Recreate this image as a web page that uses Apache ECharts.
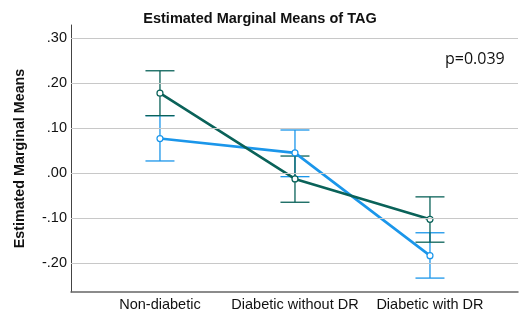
<!DOCTYPE html>
<html>
<head>
<meta charset="utf-8">
<script src="https://cdn.jsdelivr.net/npm/echarts@6/dist/echarts.min.js"></script>
<style>
  html, body { margin: 0; padding: 0; background: #fff; }
  #chart { width: 522px; height: 324px; }
</style>
</head>
<body>
<div id="chart"></div>
<script>
// Groups along the x axis
const categories = ['Non-diabetic', 'Diabetic without DR', 'Diabetic with DR'];

// Dark green series: means with lower/upper error limits
const greenMean = [0.178, -0.013, -0.103];
const greenLow  = [0.128, -0.065, -0.154];
const greenHigh = [0.228, 0.038, -0.053];

// Blue series: means with lower/upper error limits
const blueMean = [0.077, 0.045, -0.184];
const blueLow  = [0.027, -0.008, -0.234];
const blueHigh = [0.128, 0.096, -0.133];

// Y tick values
const yTicks = [-0.2, -0.1, 0.0, 0.1, 0.2, 0.3];

const GREEN = '#0a6259';
const BLUE = '#1b96ea';

function fmt(v) {
  const a = Math.abs(v).toFixed(2).replace(/^0/, '');
  return (v < -1e-9 ? '-' : '') + a;
}

function pts(arr) { return arr.map((v, i) => [i, v]); }

function errorSeries(low, high, color) {
  return {
    type: 'custom',
    silent: true,
    z: 3,
    data: low.map((v, i) => [i, v, high[i]]),
    renderItem: function (params, api) {
      const lo = api.coord([api.value(0), api.value(1)]);
      const hi = api.coord([api.value(0), api.value(2)]);
      const hw = 14.5;
      const style = { stroke: color, lineWidth: 1.3 };
      return {
        type: 'group',
        children: [
          { type: 'line', shape: { x1: lo[0], y1: lo[1], x2: hi[0], y2: hi[1] }, style: style },
          { type: 'line', shape: { x1: lo[0] - hw, y1: lo[1], x2: lo[0] + hw, y2: lo[1] }, style: style },
          { type: 'line', shape: { x1: hi[0] - hw, y1: hi[1], x2: hi[0] + hw, y2: hi[1] }, style: style }
        ]
      };
    }
  };
}

function lineSeries(vals, color) {
  return {
    type: 'line',
    data: pts(vals),
    z: 4,
    symbol: 'circle',
    symbolSize: 6,
    showSymbol: true,
    lineStyle: { color: color, width: 2.6 },
    itemStyle: { color: '#ffffff', borderColor: color, borderWidth: 1.2 },
    animation: false
  };
}

const chart = echarts.init(document.getElementById('chart'), null, { renderer: 'canvas' });

chart.setOption({
  animation: false,
  backgroundColor: '#ffffff',
  title: {
    text: 'Estimated Marginal Means of TAG',
    left: 255,
    textAlign: 'center',
    top: 6,
    textStyle: { fontFamily: 'Liberation Sans, Arial', fontSize: 14.5, fontWeight: 'bold', color: '#111' }
  },
  graphic: [{
    type: 'text',
    left: 445,
    top: 51,
    style: { text: 'p=0.039', fontFamily: 'Open Sans', fontSize: 16, fill: '#111' }
  }],
  grid: { left: 71, right: 4, top: 25, bottom: 32 },
  xAxis: {
    type: 'value',
    min: -0.659,
    max: 2.652,
    splitLine: { show: false },
    axisTick: { show: false },
    axisLine: { show: true, onZero: false, lineStyle: { color: '#666', width: 1.5 } },
    axisLabel: {
      customValues: [0, 1, 2],
      formatter: v => categories[Math.round(v)],
      color: '#111',
      fontFamily: 'Liberation Sans, Arial',
      fontSize: 14.5,
      margin: 5
    }
  },
  yAxis: {
    type: 'value',
    min: -0.265,
    max: 0.33,
    name: 'Estimated Marginal Means',
    nameLocation: 'middle',
    nameGap: 44,
    nameTextStyle: { fontFamily: 'Liberation Sans, Arial', fontSize: 14.3, fontWeight: 'bold', color: '#111' },
    splitLine: { show: false },
    axisTick: { show: false },
    axisLine: { show: true, onZero: false, lineStyle: { color: '#444', width: 1 } },
    axisLabel: {
      customValues: yTicks,
      formatter: fmt,
      color: '#111',
      fontFamily: 'Liberation Sans, Arial',
      fontSize: 14.5,
      margin: 4
    }
  },
  series: [
    {
      type: 'line',
      data: [],
      silent: true,
      markLine: {
        silent: true,
        symbol: 'none',
        label: { show: false },
        lineStyle: { color: '#c8c8c8', width: 1.2, type: 'solid' },
        data: yTicks.map(v => ({ yAxis: v }))
      },
      z: 1
    },
    errorSeries(blueLow, blueHigh, BLUE),
    errorSeries(greenLow, greenHigh, GREEN),
    lineSeries(blueMean, BLUE),
    lineSeries(greenMean, GREEN)
  ]
});
</script>
</body>
</html>
